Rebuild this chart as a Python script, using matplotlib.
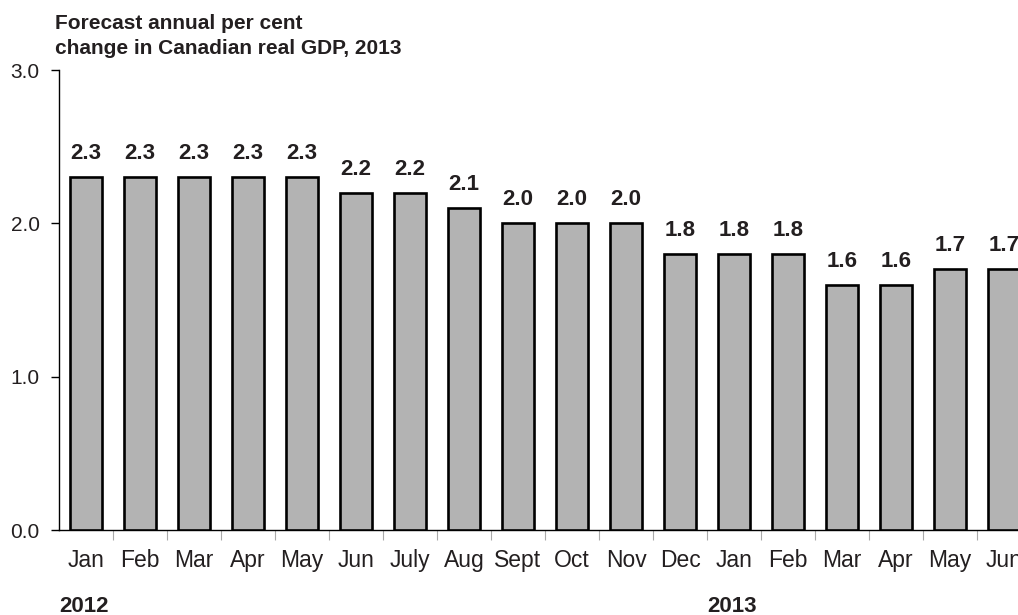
import matplotlib.pyplot as plt
import numpy as np

months = ["Jan", "Feb", "Mar", "Apr", "May", "Jun", "July", "Aug", "Sept",
          "Oct", "Nov", "Dec", "Jan", "Feb", "Mar", "Apr", "May", "Jun"]
forecast = [2.3, 2.3, 2.3, 2.3, 2.3, 2.2, 2.2, 2.1, 2.0,
            2.0, 2.0, 1.8, 1.8, 1.8, 1.6, 1.6, 1.7, 1.7]
years = ["2012", "2013"]
year_start = [0, 12]

plt.rcParams['font.family'] = ['Liberation Sans', 'DejaVu Sans']
txt = "#231f20"

W, H = 1018, 615
fig = plt.figure(figsize=(W / 100, H / 100), dpi=100)
# axes run past the right edge, like the clipped original
ax = fig.add_axes([59 / W, 85 / H, (1031 - 59) / W, (530 - 70) / H])

x = np.arange(len(months))
ax.bar(x, forecast, width=0.58, color="#b3b3b3", edgecolor="black",
       linewidth=1.9, zorder=3)
for xi, v in zip(x, forecast):
    ax.annotate(f"{v:.1f}", (xi, v), xytext=(0, 13), textcoords="offset pixels",
                ha="center", va="bottom", fontsize=16, fontweight="bold", color=txt)

ax.set_xlim(-0.5, len(months) - 0.5)
ax.set_ylim(0, 3.0)
ax.set_yticks([0, 1, 2, 3])
ax.set_yticklabels(["0.0", "1.0", "2.0", "3.0"])
ax.tick_params(axis="y", length=6, width=1, pad=8, labelsize=15, labelcolor=txt)

ax.set_xticks(x)
ax.set_xticklabels(months)
ax.tick_params(axis="x", length=0, pad=14, labelsize=16.5, labelcolor=txt)
ax.set_xticks(np.arange(len(months)) + 0.5, minor=True)
ax.tick_params(axis="x", which="minor", length=7, width=0.8, color="#aaaaaa")

for s in ["top", "right"]:
    ax.spines[s].set_visible(False)
ax.spines["left"].set_linewidth(1)
ax.spines["bottom"].set_linewidth(1)

fig.text(55 / W, 1 - 54 / H, "change in Canadian real GDP, 2013",
         fontsize=15, fontweight="bold", color=txt, ha="left", va="baseline")
fig.text(55 / W, 1 - 29 / H, "Forecast annual per cent",
         fontsize=15, fontweight="bold", color=txt, ha="left", va="baseline")

for yr, pos in zip(years, year_start):
    ax.annotate(yr, (pos - 0.5, 0), xytext=(0, -76), textcoords="offset pixels",
                ha="left", va="center", fontsize=16, fontweight="bold", color=txt)

fig.savefig("out.png", dpi=100)
